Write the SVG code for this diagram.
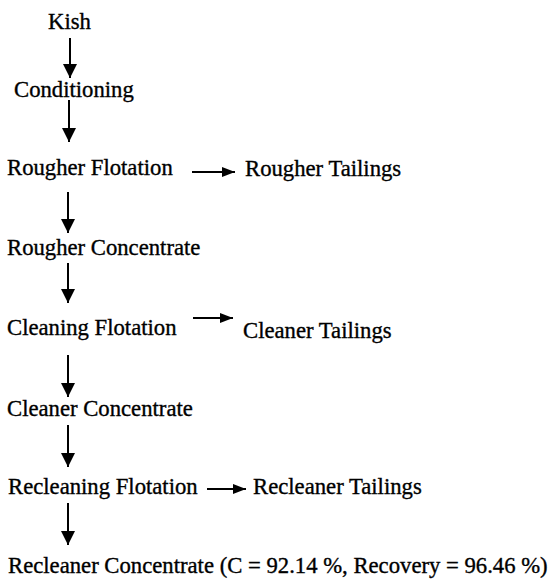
<svg xmlns="http://www.w3.org/2000/svg" width="555" height="579" viewBox="0 0 555 579">
<defs>
<style>
text{font-family:'Liberation Serif','Times New Roman','DejaVu Serif',serif;font-size:22.7px;fill:#000;stroke:#000;stroke-width:0.35}
.c line{stroke:#000;stroke-width:2}
</style>
<marker id="av" markerUnits="userSpaceOnUse" markerWidth="14" markerHeight="15" refX="14" refY="7" orient="auto" viewBox="0 0 14 14">
<path d="M0,0 L14,7 L0,14 Z" fill="#000"/>
</marker>
<marker id="ah" markerUnits="userSpaceOnUse" markerWidth="13" markerHeight="11" refX="13" refY="5" orient="auto" viewBox="0 0 13 10">
<path d="M0,0 L13,5 L0,10 Z" fill="#000"/>
</marker>
</defs>
<rect width="555" height="579" fill="#fff"/>
<g id="kish"><text x="48" y="29">Kish</text></g>
<g id="conditioning"><text x="14" y="97">Conditioning</text></g>
<g id="rougher-flotation"><text x="7" y="175">Rougher Flotation</text></g>
<g id="rougher-tailings"><text x="245" y="176">Rougher Tailings</text></g>
<g id="rougher-concentrate"><text x="7" y="255">Rougher Concentrate</text></g>
<g id="cleaning-flotation"><text x="7" y="335">Cleaning Flotation</text></g>
<g id="cleaner-tailings"><text x="243" y="338">Cleaner Tailings</text></g>
<g id="cleaner-concentrate"><text x="7" y="416">Cleaner Concentrate</text></g>
<g id="recleaning-flotation"><text x="8" y="494">Recleaning Flotation</text></g>
<g id="recleaner-tailings"><text x="253" y="494">Recleaner Tailings</text></g>
<g id="recleaner-concentrate"><text x="8" y="573">Recleaner Concentrate (C = 92.14 %, Recovery = 96.46 %)</text></g>
<g id="connectors" class="c">
<line x1="70" y1="38" x2="70" y2="78" marker-end="url(#av)"/>
<line x1="69" y1="100" x2="69" y2="142" marker-end="url(#av)"/>
<line x1="192" y1="172" x2="235" y2="172" marker-end="url(#ah)"/>
<line x1="68" y1="192" x2="68" y2="233" marker-end="url(#av)"/>
<line x1="68" y1="263" x2="68" y2="303" marker-end="url(#av)"/>
<line x1="193" y1="318" x2="233" y2="318" marker-end="url(#ah)"/>
<line x1="68" y1="355" x2="68" y2="397" marker-end="url(#av)"/>
<line x1="68" y1="425" x2="68" y2="467" marker-end="url(#av)"/>
<line x1="207" y1="489" x2="246" y2="489" marker-end="url(#ah)"/>
<line x1="68" y1="503" x2="68" y2="545" marker-end="url(#av)"/>
</g>
</svg>
